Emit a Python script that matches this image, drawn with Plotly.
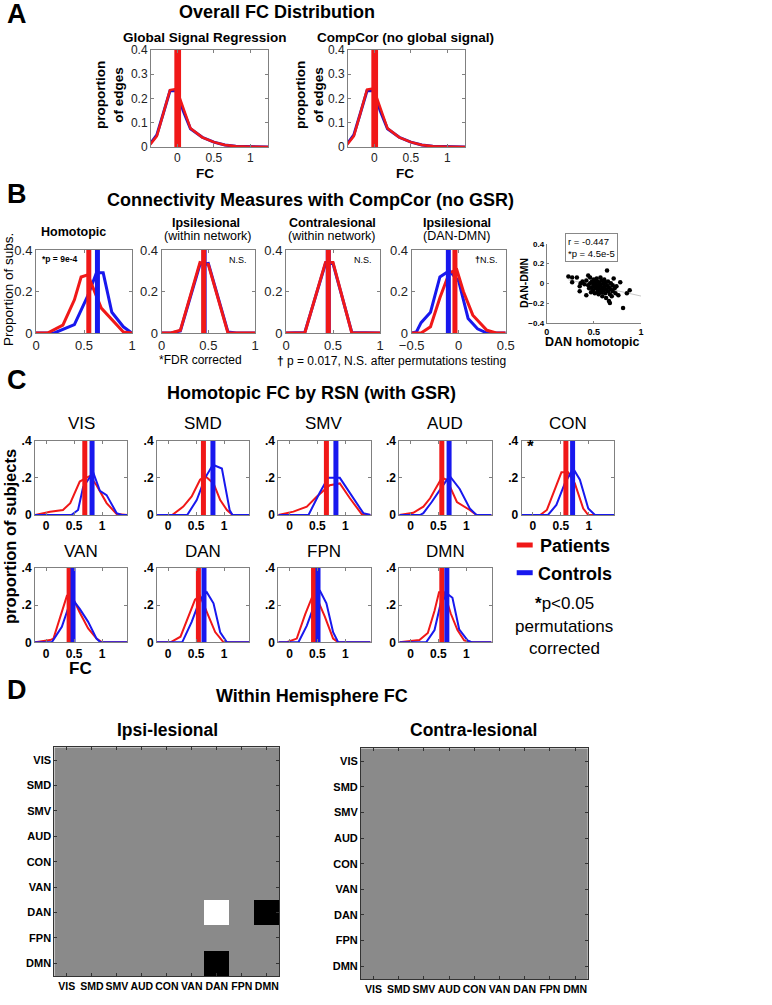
import plotly.graph_objects as go
import numpy as np

W, H = 772, 1005
FONT = 'Liberation Sans, Arial, sans-serif'
RED = '#f01818'
BLUE = '#1818ee'
AXC = '#808080'

# ---------------- Panel A data (overall FC distribution) ----------------
a_fc = [-0.37, -0.28, -0.19, -0.1, -0.01, 0.08, 0.18, 0.34, 0.5, 0.65, 0.8, 1.0, 1.25]
gsr_patients = [0.01, 0.045, 0.14, 0.235, 0.24, 0.16, 0.077, 0.04, 0.02, 0.008, 0.003, 0.001, 0]
gsr_controls = [0.014, 0.05, 0.14, 0.232, 0.232, 0.15, 0.075, 0.04, 0.02, 0.008, 0.003, 0.001, 0]
cc_patients = [0.01, 0.045, 0.14, 0.237, 0.242, 0.16, 0.077, 0.04, 0.02, 0.008, 0.003, 0.001, 0]
cc_controls = [0.014, 0.05, 0.14, 0.232, 0.232, 0.15, 0.075, 0.04, 0.02, 0.008, 0.003, 0.001, 0]
a_means_patients = [0.01, 0.01]
a_means_controls = [0.0, 0.0]

# ---------------- Panel B data ----------------
homo_pat_x = [0, 0.12, 0.28, 0.4, 0.47, 0.54, 0.68, 0.82, 0.91, 1.0]
homo_pat_y = [0, 0, 0.038, 0.16, 0.27, 0.28, 0.12, 0.047, 0.005, 0]
homo_con_x = [0, 0.19, 0.4, 0.54, 0.63, 0.7, 0.79, 0.91, 1.0]
homo_con_y = [0, 0, 0.04, 0.18, 0.29, 0.29, 0.1, 0.03, 0]
ipsi_pat_x = [0, 0.1, 0.2, 0.41, 0.5, 0.71, 0.8, 1.0]
ipsi_pat_y = [0, 0, 0.013, 0.34, 0.33, 0, 0, 0]
ipsi_con_x = [0, 0.1, 0.2, 0.41, 0.5, 0.71, 0.8, 1.0]
ipsi_con_y = [0, 0, 0.01, 0.33, 0.335, 0.005, 0, 0]
contra_pat_x = [0, 0.2, 0.42, 0.5, 0.7, 1.0]
contra_pat_y = [0, 0, 0.34, 0.34, 0, 0]
contra_con_x = [0, 0.2, 0.42, 0.5, 0.7, 1.0]
contra_con_y = [0, 0.003, 0.335, 0.335, 0.003, 0]
dd_pat_x = [-0.5, -0.4, -0.3, -0.2, -0.1, -0.02, 0.05, 0.15, 0.3, 0.4, 0.5]
dd_pat_y = [0, 0, 0.03, 0.17, 0.29, 0.305, 0.2, 0.086, 0.013, 0, 0]
dd_con_x = [-0.5, -0.45, -0.4, -0.3, -0.2, -0.1, 0.0, 0.1, 0.2, 0.3, 0.5]
dd_con_y = [0, 0.005, 0.05, 0.1, 0.27, 0.3, 0.25, 0.07, 0.02, 0, 0]
b_means_patients = [0.55, 0.45, 0.45, -0.04]
b_means_controls = [0.64, 0.455, 0.45, -0.11]

dan_homotopic = [0.23, 0.27, 0.27, 0.32, 0.35, 0.35, 0.38, 0.40, 0.42, 0.44, 0.44, 0.45, 0.46, 0.47,
                 0.48, 0.48, 0.49, 0.50, 0.50, 0.51, 0.51, 0.52, 0.52, 0.53, 0.53, 0.54, 0.54, 0.55,
                 0.55, 0.56, 0.56, 0.57, 0.57, 0.58, 0.58, 0.59, 0.59, 0.60, 0.60, 0.61, 0.61, 0.62,
                 0.62, 0.63, 0.63, 0.64, 0.64, 0.65, 0.65, 0.66, 0.66, 0.67, 0.67, 0.68, 0.68, 0.69,
                 0.70, 0.70, 0.71, 0.72, 0.73, 0.74, 0.76, 0.78, 0.81, 0.85, 0.88, 0.42, 0.46, 0.36]
dan_dmn = [0.07, 0.06, 0.01, 0.06, -0.03, -0.08, 0.02, -0.01, 0.03, 0.08, -0.02, -0.05, 0.00, -0.09,
           0.02, -0.04, -0.07, 0.04, -0.01, -0.03, -0.10, 0.01, -0.05, 0.05, -0.02, -0.08, 0.02, -0.04,
           -0.11, 0.00, -0.06, 0.06, -0.02, -0.09, 0.03, -0.05, -0.13, 0.00, -0.07, 0.04, -0.03, -0.10,
           0.01, -0.06, -0.15, 0.13, -0.02, -0.08, 0.02, -0.18, -0.04, -0.20, -0.11, 0.00, -0.06, -0.13,
           -0.02, -0.08, 0.05, -0.05, -0.10, -0.03, -0.12, 0.01, -0.25, -0.10, -0.07, -0.12, 0.06, 0.00]

# ---------------- Panel C data (homotopic FC by RSN) ----------------
rsn_names = ['VIS', 'SMD', 'SMV', 'AUD', 'CON', 'VAN', 'DAN', 'FPN', 'DMN']
c_pat_x = [
    [-0.2, 0.07, 0.3, 0.43, 0.6, 0.72, 0.78, 0.9, 1.08, 1.26, 1.45],
    [-0.2, 0.07, 0.27, 0.42, 0.57, 0.66, 0.81, 0.93, 1.05, 1.15, 1.45],
    [-0.2, 0.07, 0.31, 0.49, 0.72, 0.9, 1.08, 1.29, 1.45],
    [-0.2, 0.05, 0.23, 0.35, 0.56, 0.65, 0.83, 0.94, 1.06, 1.18, 1.45],
    [-0.2, 0.13, 0.25, 0.36, 0.51, 0.63, 0.75, 0.9, 0.99, 1.45],
    [-0.2, 0.07, 0.13, 0.28, 0.37, 0.46, 0.6, 0.75, 0.9, 1.0, 1.45],
    [-0.2, 0.04, 0.22, 0.36, 0.48, 0.57, 0.69, 0.84, 0.99, 1.45],
    [-0.2, -0.05, 0.13, 0.28, 0.4, 0.5, 0.63, 0.78, 0.87, 1.45],
    [-0.2, 0.16, 0.31, 0.43, 0.51, 0.6, 0.72, 0.84, 0.96, 1.1, 1.45],
]
c_pat_y = [
    [0, 0.018, 0.027, 0.064, 0.18, 0.2, 0.21, 0.16, 0.064, 0.005, 0],
    [0, 0, 0.045, 0.1, 0.19, 0.21, 0.17, 0.08, 0.027, 0, 0],
    [0, 0.018, 0.045, 0.1, 0.16, 0.17, 0.09, 0.005, 0],
    [0, 0.012, 0.045, 0.09, 0.2, 0.19, 0.07, 0.05, 0.027, 0, 0],
    [0, 0, 0.027, 0.11, 0.23, 0.23, 0.17, 0.035, 0, 0],
    [0, 0.012, 0.02, 0.16, 0.25, 0.25, 0.16, 0.075, 0.02, 0, 0],
    [0, 0, 0.03, 0.135, 0.23, 0.25, 0.16, 0.055, 0, 0],
    [0, 0, 0.02, 0.15, 0.24, 0.23, 0.14, 0.02, 0, 0],
    [0, 0.012, 0.05, 0.17, 0.27, 0.27, 0.155, 0.066, 0.01, 0, 0],
]
c_con_x = [
    [-0.2, 0.45, 0.57, 0.66, 0.75, 0.84, 0.96, 1.08, 1.26, 1.35, 1.45],
    [-0.2, 0.34, 0.51, 0.66, 0.8, 0.96, 1.1, 1.15, 1.45],
    [-0.2, 0.34, 0.54, 0.69, 0.9, 1.05, 1.32, 1.45],
    [-0.2, 0.17, 0.23, 0.38, 0.56, 0.7, 0.88, 1.06, 1.18, 1.45],
    [-0.2, 0.27, 0.42, 0.57, 0.72, 0.84, 0.99, 1.11, 1.45],
    [-0.2, 0.1, 0.28, 0.4, 0.5, 0.6, 0.75, 0.9, 0.97, 1.45],
    [-0.2, 0.25, 0.42, 0.57, 0.69, 0.81, 0.93, 1.05, 1.45],
    [-0.2, 0.16, 0.31, 0.46, 0.54, 0.66, 0.78, 0.87, 1.45],
    [-0.2, 0.28, 0.43, 0.54, 0.66, 0.75, 0.87, 1.02, 1.1, 1.45],
]
c_con_y = [
    [0, 0, 0.027, 0.15, 0.19, 0.23, 0.13, 0.107, 0.01, 0, 0],
    [0, 0, 0.08, 0.2, 0.27, 0.25, 0.025, 0, 0],
    [0, 0, 0.12, 0.2, 0.2, 0.13, 0.01, 0],
    [0, 0, 0.01, 0.07, 0.15, 0.21, 0.14, 0.035, 0, 0],
    [0, 0, 0.054, 0.17, 0.25, 0.19, 0.035, 0, 0],
    [0, 0, 0.084, 0.19, 0.22, 0.18, 0.11, 0.02, 0, 0],
    [0, 0, 0.11, 0.23, 0.27, 0.21, 0.054, 0, 0],
    [0, 0, 0.09, 0.21, 0.28, 0.21, 0.054, 0, 0],
    [0, 0, 0.066, 0.21, 0.26, 0.24, 0.07, 0.01, 0, 0],
]
c_mean_pat = [0.69, 0.63, 0.66, 0.56, 0.59, 0.41, 0.54, 0.43, 0.56]
c_mean_con = [0.82, 0.80, 0.83, 0.69, 0.71, 0.48, 0.64, 0.51, 0.65]

# ---------------- Panel D data ----------------
d_labels = ['VIS', 'SMD', 'SMV', 'AUD', 'CON', 'VAN', 'DAN', 'FPN', 'DMN']
ipsi_matrix = [[0] * 9 for _ in range(9)]
ipsi_matrix[6][6] = 1
ipsi_matrix[6][8] = -1
ipsi_matrix[8][6] = -1
contra_matrix = [[0] * 9 for _ in range(9)]

# ======================================================================
fig = go.Figure()
layout = dict(template='none', width=W, height=H, margin=dict(l=0, r=0, t=0, b=0, pad=0, autoexpand=False),
              paper_bgcolor='white', plot_bgcolor='white', showlegend=False,
              font=dict(family=FONT, color='black'))
annots = []
shapes = []
_n = [0]


def new_axes(x0, x1, y0, y1, xkw, ykw):
    _n[0] += 1
    s = '' if _n[0] == 1 else str(_n[0])
    layout['xaxis' + s] = dict(domain=[x0 / W, x1 / W], anchor='y' + s, automargin=False, **xkw)
    layout['yaxis' + s] = dict(domain=[1 - y1 / H, 1 - y0 / H], anchor='x' + s, automargin=False, **ykw)
    return 'x' + s, 'y' + s


def base(**kw):
    d = dict(showline=True, mirror='ticks', linecolor=AXC, linewidth=1, ticks='inside',
             ticklen=3, tickcolor=AXC, showgrid=False, zeroline=False, fixedrange=True)
    d.update(kw)
    return d


def txt(px, py, text, size, bold=False, xanchor='center', angle=0, color='black', yanchor='middle'):
    annots.append(dict(xref='paper', yref='paper', x=px / W, y=1 - py / H, text=text,
                       showarrow=False, xanchor=xanchor, yanchor=yanchor, textangle=angle,
                       font=dict(size=size, color=color, family=FONT,
                                 weight='bold' if bold else 'normal')))


def line(xa, ya, x, y, color, width):
    fig.add_trace(go.Scatter(x=x, y=y, xaxis=xa, yaxis=ya, mode='lines',
                             line=dict(color=color, width=width), hoverinfo='skip'))


def vline(xa, ya, m, top, color, width):
    line(xa, ya, [m, m], [0, top], color, width)


# ---------------- Panel A ----------------
txt(17, 14, '<b>A</b>', 27)
txt(277, 12, '<b>Overall FC Distribution</b>', 18)
a_sets = [(151, 268, 'Global Signal Regression', gsr_patients, gsr_controls, 205, 109),
          (348, 465, 'CompCor (no global signal)', cc_patients, cc_controls, 405, 309)]
for i, (x0, x1, title, pat, con, cx, lx) in enumerate(a_sets):
    xa, ya = new_axes(x0, x1, 50, 147,
                      base(range=[-0.36, 1.24], tickvals=[0, 0.5, 1], ticktext=['0', '0.5', '1'],
                           tickfont=dict(size=12, color='#222')),
                      base(range=[0, 0.4], tickvals=[0, 0.1, 0.2, 0.3, 0.4],
                           ticktext=['0', '0.1', '0.2', '0.3', '0.4'], tickfont=dict(size=12, color='#222')))
    line(xa, ya, a_fc, con, '#2a10c0', 3)
    line(xa, ya, a_fc, pat, RED, 2.5)
    vline(xa, ya, a_means_controls[i], 0.4, RED, 6)
    vline(xa, ya, a_means_patients[i], 0.4, RED, 6)
    txt(cx, 37, '<b>' + title + '</b>', 13.5)
    txt(lx, 95, '<b>proportion<br>of edges</b>', 13.5, angle=-90)
    txt(cx, 173, '<b>FC</b>', 13.5)

# ---------------- Panel B ----------------
txt(17, 194, '<b>B</b>', 27)
txt(310, 200, '<b>Connectivity Measures with CompCor (no GSR)</b>', 18)
txt(8, 290, 'Proportion of subs.', 13.5, angle=-90)
b_sets = [
    (36, 132, [0, 1], [0, 0.5, 1], ['0', '0.5', '1'], homo_pat_x, homo_pat_y, homo_con_x, homo_con_y),
    (161.7, 255, [0, 1], [0, 0.5, 1], ['0', '0.5', '1'], ipsi_pat_x, ipsi_pat_y, ipsi_con_x, ipsi_con_y),
    (286, 380, [0, 1], [0, 0.5, 1], ['0', '0.5', '1'], contra_pat_x, contra_pat_y, contra_con_x, contra_con_y),
    (411.7, 505.7, [-0.5, 0.5], [-0.5, 0, 0.5], ['\u22120.5', '0', '0.5'], dd_pat_x, dd_pat_y, dd_con_x, dd_con_y),
]
for i, (x0, x1, rng, tv, tt, px_, py_, cx_, cy_) in enumerate(b_sets):
    xa, ya = new_axes(x0, x1, 250, 333,
                      base(range=rng, tickvals=tv, ticktext=tt, tickfont=dict(size=13, color='#222')),
                      base(range=[0, 0.4], tickvals=[0, 0.2, 0.4], ticktext=['0', '0.2', '0.4'],
                           tickfont=dict(size=13, color='#222')))
    line(xa, ya, cx_, cy_, BLUE, 3)
    line(xa, ya, px_, py_, RED, 3)
    if i == 3:
        vline(xa, ya, b_means_patients[i], 0.4, RED, 5)
        vline(xa, ya, b_means_controls[i], 0.4, BLUE, 5)
    else:
        vline(xa, ya, b_means_controls[i], 0.4, BLUE, 5)
        vline(xa, ya, b_means_patients[i], 0.4, RED, 5)

txt(73, 232, '<b>Homotopic</b>', 12.5)
txt(206, 223, '<b>Ipsilesional</b>', 12.5)
txt(208, 236, '(within network)', 12.5)
txt(332, 223, '<b>Contralesional</b>', 12.5)
txt(332, 236, '(within network)', 12.5)
txt(457, 223, '<b>Ipsilesional</b>', 12.5)
txt(456, 236, '(DAN-DMN)', 12.5)
txt(40, 259, '<b>*p = 9e-4</b>', 8.5, xanchor='left')
txt(249, 260, 'N.S.', 9, xanchor='right')
txt(374, 260, 'N.S.', 9, xanchor='right')
txt(500, 260, '<b>\u2020</b>N.S.', 9, xanchor='right')
txt(201, 360, '*FDR corrected', 12)
txt(275, 361, '<b>\u2020</b> p = 0.017, N.S. after permutations testing', 12, xanchor='left')

# scatter
xa, ya = new_axes(546.7, 641, 244, 322.7,
                  dict(range=[0, 1], tickvals=[0, 0.5, 1], ticktext=['0', '0.5', '1'], showline=True,
                       linecolor=AXC, ticks='inside', ticklen=2, tickcolor=AXC, showgrid=False,
                       zeroline=False, tickfont=dict(size=9, weight='bold')),
                  dict(range=[-0.4, 0.4], tickvals=[-0.4, -0.2, 0, 0.2, 0.4],
                       ticktext=['\u22120.4', '\u22120.2', '0', '0.2', '0.4'], showline=True,
                       linecolor=AXC, ticks='inside', ticklen=2, tickcolor=AXC, showgrid=False,
                       zeroline=False, tickfont=dict(size=8, weight='bold')))
slope, intercept = np.polyfit(dan_homotopic, dan_dmn, 1)
reg_x = np.array([min(dan_homotopic), 1.0])
line(xa, ya, reg_x, slope * reg_x + intercept, '#c8c8c8', 1)
fig.add_trace(go.Scatter(x=dan_homotopic, y=dan_dmn, xaxis=xa, yaxis=ya, mode='markers',
                         marker=dict(color='black', size=4.5), hoverinfo='skip'))
txt(524, 283, '<b>DAN-DMN</b>', 10.5, angle=-90)
txt(592, 342, '<b>DAN homotopic</b>', 12.5)
annots.append(dict(xref='paper', yref='paper', x=565 / W, y=1 - 233 / H, xanchor='left', yanchor='top',
                   text='r = -0.447<br>*p = 4.5e-5', showarrow=False, align='left',
                   bordercolor='#888', borderwidth=1, borderpad=2, bgcolor='white',
                   font=dict(size=9.5, family=FONT)))

# ---------------- Panel C ----------------
txt(17, 380, '<b>C</b>', 27)
txt(311, 393, '<b>Homotopic FC by RSN (with GSR)</b>', 18)
txt(10, 537, '<b>proportion of subjects</b>', 16.5, angle=-90)
c_lefts = [35, 157, 278.3, 399.3, 521.7, 35, 157, 278.3, 399.3]
for k in range(9):
    row = 0 if k < 5 else 1
    top = 440.7 if row == 0 else 568
    x0 = c_lefts[k]
    xa, ya = new_axes(x0, x0 + 92.3, top, top + 74.3,
                      base(range=[-0.2, 1.45], tickvals=[0, 0.5, 1], ticktext=['0', '0.5', '1'],
                           tickfont=dict(size=12, weight='bold')),
                      base(range=[0, 0.4], tickvals=[0, 0.2, 0.4], ticktext=['0', '.2', '.4'],
                           tickfont=dict(size=12, weight='bold')))
    line(xa, ya, c_pat_x[k], c_pat_y[k], RED, 2)
    line(xa, ya, c_con_x[k], c_con_y[k], BLUE, 2)
    vline(xa, ya, c_mean_pat[k], 0.4, RED, 5)
    vline(xa, ya, c_mean_con[k], 0.4, BLUE, 5)
    txt(x0 + 46, 423 if row == 0 else 551, rsn_names[k], 17)
txt(530, 446, '<b>*</b>', 17)
txt(80, 668, '<b>FC</b>', 17)
shapes.append(dict(type='line', xref='paper', yref='paper', x0=516.7 / W, x1=532.7 / W,
                   y0=1 - 545 / H, y1=1 - 545 / H, line=dict(color=RED, width=5)))
shapes.append(dict(type='line', xref='paper', yref='paper', x0=516.7 / W, x1=532.7 / W,
                   y0=1 - 572.7 / H, y1=1 - 572.7 / H, line=dict(color=BLUE, width=5)))
txt(538, 546, '<b>Patients</b>', 18, xanchor='left')
txt(536, 574, '<b>Controls</b>', 18, xanchor='left')
txt(564, 603, '<b>*</b>p<0.05', 17)
txt(564, 626, 'permutations', 17)
txt(564, 648, 'corrected', 17)

# ---------------- Panel D ----------------
txt(17, 690, '<b>D</b>', 27)
txt(312, 696, '<b>Within Hemisphere FC</b>', 18)
txt(167, 730, '<b>Ipsi-lesional</b>', 17.5)
txt(474, 730, '<b>Contra-lesional</b>', 17.5)
d_sets = [(54.3, 279.3, 747.3, 976, ipsi_matrix), (361, 587.7, 748.3, 979, contra_matrix)]
for (x0, x1, y0, y1, mat) in d_sets:
    xa, ya = new_axes(x0, x1, y0, y1,
                      dict(type='category', showline=True, mirror='ticks', linecolor='#333', ticks='inside',
                           ticklen=3, tickcolor='#333', showgrid=False, zeroline=False,
                           tickfont=dict(size=10.5, weight='bold'), tickangle=0),
                      dict(type='category', showline=True, mirror='ticks', linecolor='#333', ticks='inside',
                           ticklen=3, tickcolor='#333', showgrid=False, zeroline=False, autorange='reversed',
                           tickfont=dict(size=11, weight='bold')))
    fig.add_trace(go.Heatmap(z=mat, x=d_labels, y=d_labels, xaxis=xa, yaxis=ya, zmin=-1, zmax=1,
                             colorscale=[[0, 'black'], [0.5, '#8a8a8a'], [1, 'white']],
                             showscale=False, hoverinfo='skip'))

layout['annotations'] = annots
layout['shapes'] = shapes
fig.update_layout(**layout)
fig.write_html('out.html', config={'displayModeBar': False, 'staticPlot': True},
               post_script="document.body.style.margin='0';document.body.style.padding='0';")
